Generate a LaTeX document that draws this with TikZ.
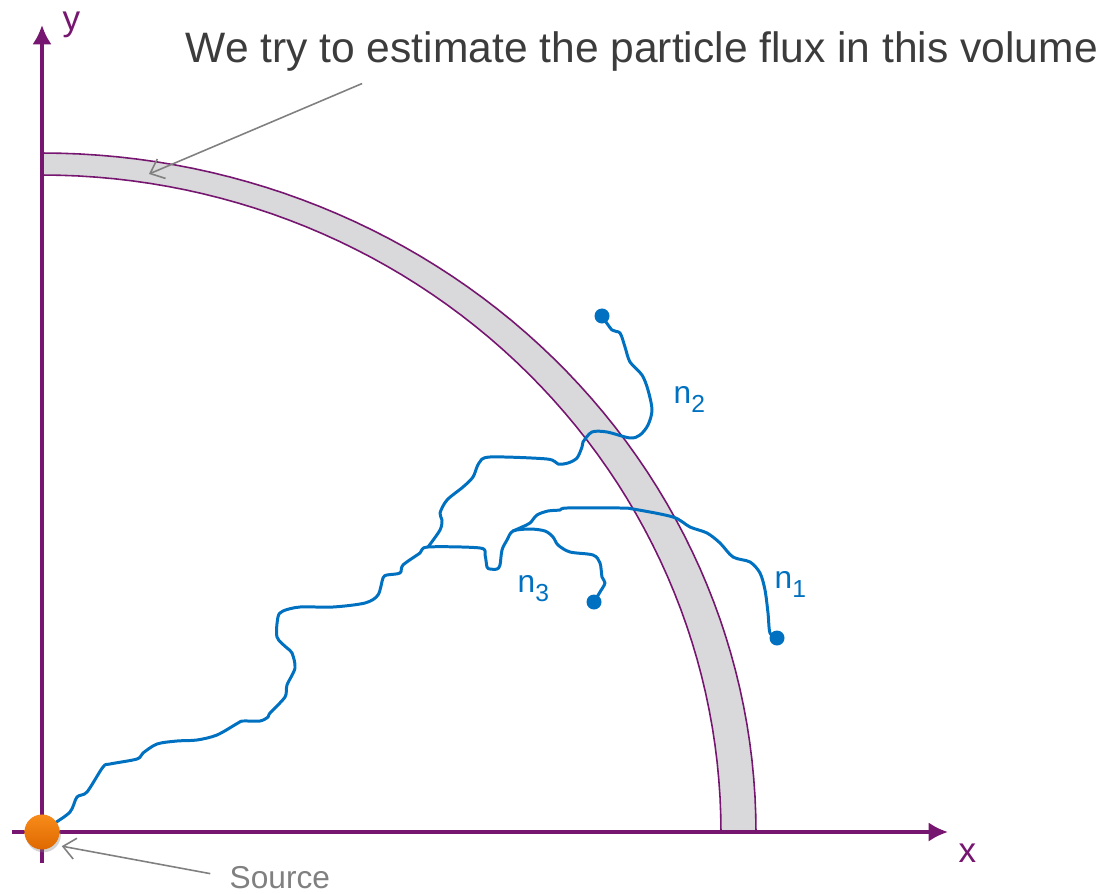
\documentclass[tikz,border=0pt]{standalone}
\usepackage{fontspec}
\setmainfont{Liberation Sans}
\usetikzlibrary{arrows.meta, shadows}
\definecolor{axispurple}{RGB}{118,22,112}
\definecolor{shellgray}{RGB}{217,217,219}
\definecolor{trackblue}{RGB}{0,112,192}
\definecolor{notegray}{RGB}{128,128,128}
\definecolor{titlegray}{RGB}{60,60,60}
\definecolor{srctop}{RGB}{248,140,26}
\definecolor{srcbot}{RGB}{222,104,0}

\begin{document}
\begin{tikzpicture}[
  x=0.01cm, y=-0.01cm,
  axis/.style={draw=axispurple, line width=1pt, -{Latex[length=5.5pt,width=5.5pt]}},
  rim/.style={draw=axispurple, line width=0.45pt},
  track/.style={draw=trackblue, line width=0.85pt, line join=round, line cap=round},
  note/.style={draw=notegray, line width=0.45pt, -{Straight Barb[length=3.5pt,width=6pt]}},
  hit/.style={circle, fill=trackblue, inner sep=0pt, minimum size=0.15cm},
  nlabel/.style={text=trackblue, inner sep=0pt, anchor=base west, font=\fontsize{9}{10}\selectfont},
  axlabel/.style={text=axispurple, inner sep=0pt, anchor=base west, font=\fontsize{10}{12}\selectfont}
]
\useasboundingbox (0,0) rectangle (1103,894);

\fill[shellgray] plot[domain=0:90, samples=60] ({42+714*cos(\x)}, {832-679*sin(\x)})
  -- plot[domain=90:0, samples=60] ({42+679*cos(\x)}, {832-657*sin(\x)}) -- cycle;
\draw[rim] plot[domain=0:90, samples=60] ({42+714*cos(\x)}, {832-679*sin(\x)});
\draw[rim] plot[domain=0:90, samples=60] ({42+679*cos(\x)}, {832-657*sin(\x)});

\draw[axis] (12,832) -- (948,832);
\draw[axis] (42,863) -- (42,25);

\draw[track] plot[smooth, tension=0.5] coordinates {(42,832) (52,825) (70,812) (77,797) (87,792)
  (103,767) (110,764) (137,759) (143,753) (157,744) (177,741) (197,740) (217,735) (238,723)
  (243,721) (260,721) (268,717) (270,713) (285,697) (287,685) (295,668) (292,653) (287,648)
  (277,637) (278,617) (283,611) (300,607) (333,607) (365,603) (378,595) (383,578) (387,575)
  (400,573) (403,565) (420,553) (428,547) (480,548) (485,555) (487,567) (490,569) (497,569)
  (500,565) (502,550) (507,540) (513,531) (530,529) (545,531) (553,537) (558,545) (570,552)
  (593,555) (600,563) (602,577) (605,583) (600,592) (594,602)};
\draw[track] plot[smooth, tension=0.5] coordinates {(513,531) (522,527) (530,523) (537,515)
  (548,511) (560,510) (567,508) (620,508) (633,509) (673,517) (690,527) (707,533) (720,543)
  (733,557) (750,562) (760,573) (765,590) (768,613) (770,633) (777,638)};
\draw[track] plot[smooth, tension=0.5] coordinates {(428,547) (440,530) (442,520) (440,513)
  (447,500) (463,487) (473,477) (479,463) (490,457) (547,459) (558,464) (568,463) (577,458)
  (582,447) (583,442) (592,432) (607,432) (630,438) (640,435) (648,425) (652,410) (648,390)
  (642,375) (630,362) (625,347) (620,333) (612,330) (602,316)};

\node[circle, minimum size=0.35cm, inner sep=0pt, top color=srctop, bottom color=srcbot,
  drop shadow={shadow xshift=0.4pt, shadow yshift=-0.8pt, opacity=0.35}] (src) at (42,832) {};

\node[hit] (end1) at (777,638) {};
\node[hit] (end2) at (602,316) {};
\node[hit] (end3) at (594,602) {};

\node[nlabel] (lab1) at (774,588) {n\raisebox{-2.6pt}{\fontsize{7}{8}\selectfont 1}};
\node[nlabel] (lab2) at (673,403) {n\raisebox{-2.6pt}{\fontsize{7}{8}\selectfont 2}};
\node[nlabel] (lab3) at (517,592) {n\raisebox{-2.6pt}{\fontsize{7}{8}\selectfont 3}};

\node[axlabel] (xlab) at (958,862) {x};
\node[axlabel] (ylab) at (62,31) {y};

\node[font=\fontsize{12.1}{14}\selectfont, text=titlegray, inner sep=0pt, anchor=base west]
  (title) at (185,63) {We try to estimate the particle flux in this volume};
\coordinate (vol) at (149,174);
\draw[note] ([xshift=1.77cm, yshift=-0.11cm]title.south west) -- (vol);

\node[font=\fontsize{9}{10}\selectfont, text=notegray, inner sep=0pt, anchor=base west]
  (srclabel) at (229,888) {Source};
\draw[note, shorten <=0.19cm, shorten >=0.07cm] (srclabel.west) -- (src.-45);

\end{tikzpicture}
\end{document}
